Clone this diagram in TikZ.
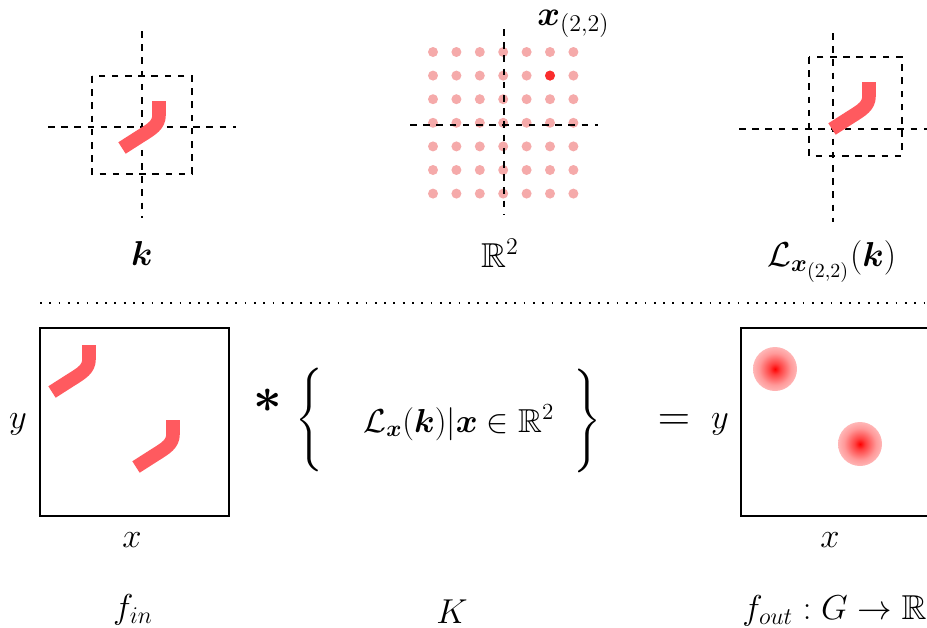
\documentclass[tikz,border=0pt]{standalone}
\usepackage{amsmath, amssymb}
\usepackage{xcolor}
\usepackage{tikz}
\usetikzlibrary{positioning}
\definecolor{strokered}{RGB}{255,90,95}
\definecolor{dotpink}{RGB}{245,170,170}
\definecolor{dotred}{RGB}{250,45,45}
\pgfdeclareradialshading{blobshade}{\pgfpoint{0bp}{0bp}}{color(0bp)=(red); color(6bp)=(red!75!white); color(18bp)=(red!40!white); color(32bp)=(red!17!white); color(44bp)=(red!6!white); color(50bp)=(red!2!white)}
\tikzset{
  axis/.style={line width=1.3pt, dash pattern=on 3.3pt off 3.3pt},
  kbox/.style={line width=1.1pt, dash pattern=on 3.3pt off 3.3pt},
  kstroke/.style={draw=strokered, line width=6.8pt},
  frame/.style={draw=black, line width=1.2pt, minimum width=94.5pt, minimum height=94pt, anchor=north west, inner sep=0pt},
  lbl/.style={font=\LARGE, inner sep=0pt},
  kernelstroke/.pic={\draw[kstroke] (0,0) -- (18,-11.5) .. controls (30,-19) and (37,-23) .. (37,-33) -- (37,-47);},
  blob/.pic={\shade[shading=blobshade] (0,0) circle (11pt);}
}

\begin{document}
\begin{tikzpicture}[x=0.5pt, y=-0.5pt]
  \useasboundingbox (0,0) rectangle (927,627);
  % kernel k
  \draw[axis] (142,31) -- (142,218);
  \draw[axis] (48,127) -- (236,127);
  \draw[kbox] (92,76) rectangle (192,174);
  \pic at (122,148) {kernelstroke};
  \node[lbl, anchor=base] (klbl) at (142,265) {$\boldsymbol{k}$};
  % grid of shifts
  \foreach \i in {0,...,6}
    \foreach \j in {0,...,6}
      \fill[dotpink] (433+23.4*\i, 52+23.6*\j) circle (2.5pt);
  \fill[dotred] (433+23.4*5, 52+23.6) circle (2.5pt);
  \draw[axis] (504,29) -- (504,215);
  \draw[axis] (410,125) -- (598,125);
  \node[lbl, anchor=base west] (xlbl) at (537,25) {$\boldsymbol{x}_{(2,2)}$};
  \node[lbl, anchor=base] (rlbl) at (500,267) {$\mathbb{R}^2$};
  % shifted kernel
  \draw[axis] (833,33) -- (833,222);
  \draw[axis] (739,129) -- (927,129);
  \draw[kbox] (809,57) rectangle (902,156);
  \pic at (832,129) {kernelstroke};
  \node[lbl, anchor=base west] (llbl) at (767,266) {$\mathcal{L}_{\boldsymbol{x}_{(2,2)}}(\boldsymbol{k})$};
  % separator
  \draw[line width=0.9pt, dash pattern=on 0.9pt off 3.75pt] (40,303) -- (927,303);
  % input
  \node[frame] (fin) at (39,327) {};
  \pic at (52,392) {kernelstroke};
  \pic at (136,467) {kernelstroke};
  \node[lbl, anchor=base] (yin) at (18,428) {$y$};
  \node[lbl, anchor=base] (xin) at (132,547) {$x$};
  \node[lbl, anchor=base] (finlbl) at (133,618) {$f_{in}$};
  % kernel set
  \node[lbl, font=\Huge] (conv) at (268,401) {$\boldsymbol{\ast}$};
  \node[lbl] (lbrace) at (311,420) {$\left\{\vrule height 22pt depth 22pt width 0pt\right.$};
  \node[lbl, scale=0.96, anchor=base west] (kset) at (363,432) {$\mathcal{L}_{\boldsymbol{x}}(\boldsymbol{k})|\boldsymbol{x}\in\mathbb{R}^2$};
  \node[lbl] (rbrace) at (586,421) {$\left.\vrule height 22pt depth 22pt width 0pt\right\}$};
  \node[lbl, anchor=base] (Klbl) at (452,623) {$K$};
  % output
  \node[lbl, font=\Huge, scale=0.9, anchor=base] (eq) at (674,430) {$=$};
  \node[lbl, anchor=base] (yout) at (720,428) {$y$};
  \node[frame] (fout) at (740,327) {};
  \pic at (775,369) {blob};
  \pic at (860,444) {blob};
  \node[lbl, anchor=base] (xout) at (830,547) {$x$};
  \node[lbl, anchor=base west] (foutlbl) at (742,619) {$f_{out}:G\rightarrow\mathbb{R}$};
\end{tikzpicture}
\end{document}
